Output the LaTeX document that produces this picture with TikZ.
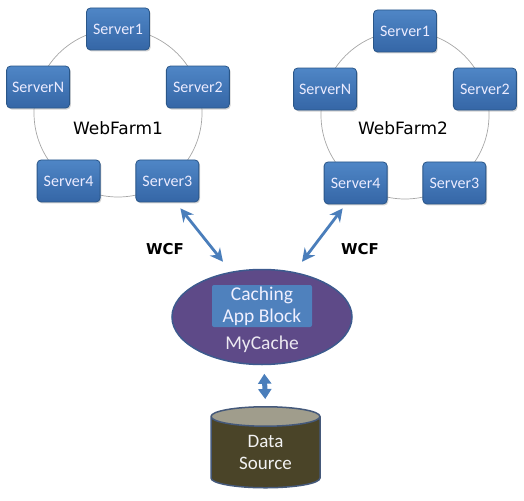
\documentclass[tikz,border=0pt]{standalone}
\usepackage{fontspec}
\setmainfont{Carlito}
\newfontfamily\farmfont{DejaVu Sans}
\usetikzlibrary{arrows.meta,shapes.geometric,shadows,calc}

\definecolor{srvtop}{HTML}{4F86C6}
\definecolor{srvbot}{HTML}{3566A6}
\definecolor{srvline}{HTML}{2A5688}
\definecolor{linkblue}{HTML}{4A7EBB}
\definecolor{cachefill}{HTML}{5E4A88}
\definecolor{cacheline}{HTML}{3D5A8E}
\definecolor{blockfill}{HTML}{4F81BD}
\definecolor{dbbody}{HTML}{4A4428}
\definecolor{dbtop}{HTML}{A09D8C}
\definecolor{dbline}{HTML}{45597A}

\begin{document}
\begin{tikzpicture}[
      x=1pt, y=-1pt,
      server/.style={rectangle, rounded corners=4pt, minimum width=63pt,
        minimum height=42pt, top color=srvtop, bottom color=srvbot,
        draw=srvline, line width=0.8pt, text=white!92!blue,
        font=\fontsize{16}{16}\selectfont,
        drop shadow={shadow xshift=1.2pt, shadow yshift=-1.5pt, opacity=0.35}},
      ring/.style={draw=gray!70, line width=0.7pt},
      farm/.style={font=\farmfont\fontsize{17}{17}\selectfont},
      wcf/.style={font=\farmfont\bfseries\fontsize{15}{15}\selectfont},
      link/.style={draw=linkblue, line width=2.8pt,
        {Stealth[length=13pt,width=13pt]}-{Stealth[length=13pt,width=13pt]}},
      cache/.style={ellipse, minimum width=180pt, minimum height=95pt,
        inner sep=0pt, fill=cachefill, draw=cacheline, line width=1.5pt},
      block/.style={rectangle, rounded corners=2pt, minimum width=100pt,
        minimum height=42pt, inner sep=0pt, fill=blockfill, align=center,
        text=white!94!blue, font=\fontsize{19.5}{22}\selectfont},
      db/.style={cylinder, shape border rotate=90, aspect=0.37,
        minimum width=109pt, minimum height=81pt, inner sep=0pt,
        cylinder uses custom fill, cylinder body fill=dbbody,
        cylinder end fill=dbtop, draw=dbline, line width=1.5pt,
        align=center, text=white!95!black,
        font=\fontsize{19}{22}\selectfont},
      fat/.style={draw=linkblue, line width=5pt,
        {Triangle[length=10pt,width=13pt]}-{Triangle[length=10pt,width=13pt]}},
    ]
    \useasboundingbox (0,0) rectangle (524,500);

    % -------------------------------------------------------
    %  WebFarm1
    % -------------------------------------------------------
    \begin{scope}[shift={(118,113)}]
      \draw[ring] (0,0) circle[radius=84];
      \foreach \a/\n in {90/1, 18/2, -54/3, -126/4, 162/N} {
        \node[server] (wfA-\n) at (-\a:84) {Server\n};
      }
      \node[farm] (farmA) at (0,15) {WebFarm1};
    \end{scope}

    % -------------------------------------------------------
    %  WebFarm2
    % -------------------------------------------------------
    \begin{scope}[shift={(405,115)}]
      \draw[ring] (0,0) circle[radius=84];
      \foreach \a/\n in {90/1, 18/2, -54/3, -126/4, 162/N} {
        \node[server] (wfB-\n) at (-\a:84) {Server\n};
      }
      \node[farm] (farmB) at (-2,13) {WebFarm2};
    \end{scope}

    % -------------------------------------------------------
    %  Cache and data source
    % -------------------------------------------------------
    \node[cache] (cache) at (262,317) {};
    \node[block] (block) at (262,306) {Caching\\App Block};
    \node[anchor=base, text=white!88!cachefill,
      font=\fontsize{19.5}{19.5}\selectfont] (mycache) at (262,349) {MyCache};

    \node[db] (data) at (265.5,452.5) {Data\\Source};

    % WCF links
    \node[wcf] (wcfA) at (165,249) {WCF};
    \node[wcf] (wcfB) at (360,249) {WCF};
    \draw[link] ([xshift=13pt,yshift=-6pt]wfA-3.south)
      -- ([xshift=-39pt,yshift=7pt]cache.north);
    \draw[link] ([xshift=-13pt,yshift=-4pt]wfB-4.south)
      -- ([xshift=40pt,yshift=7pt]cache.north);

    \draw[fat, shorten <=8.5pt, shorten >=7pt] ([xshift=2pt]cache.south) -- (data.north);

  \end{tikzpicture}
\end{document}
